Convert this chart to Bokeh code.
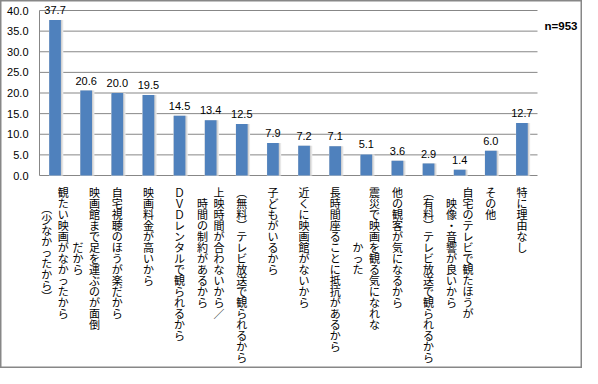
from bokeh.plotting import figure
from bokeh.models import ColumnDataSource, Range1d
from bokeh.transform import dodge
from bokeh.core.properties import value
from bokeh.embed import file_html
from bokeh.resources import INLINE

# ---- data ----
label_lines = [
    ["観たい映画がなかったから", "︵少なかったから︶"],
    ["映画館まで足を運ぶのが面倒", "だから"],
    ["自宅視聴のほうが楽だから"],
    ["映画料金が高いから"],
    ["ＤＶＤレンタルで観られるから"],
    ["上映時間が合わないから／", "時間の制約があるから"],
    ["︵無料︶テレビ放送で観られるから"],
    ["子どもがいるから"],
    ["近くに映画館がないから"],
    ["長時間座ることに抵抗があるから"],
    ["震災で映画を観る気になれな", "かった"],
    ["他の観客が気になるから"],
    ["︵有料︶テレビ放送で観られるから"],
    ["自宅のテレビで観たほうが", "映像・音響が良いから"],
    ["その他"],
    ["特に理由なし"],
]
categories = ["".join(l) for l in label_lines]
values = [37.7, 20.6, 20.0, 19.5, 14.5, 13.4, 12.5, 7.9, 7.2, 7.1, 5.1, 3.6, 2.9, 1.4, 6.0, 12.7]
y_ticks = [0, 5, 10, 15, 20, 25, 30, 35, 40]
y_tick_labels = ["%.1f" % t for t in y_ticks]
sample_note = "n=953"

# ---- layout (pixels) ----
W, H = 582, 368
PL, PR = 39, 537          # plot area left / right
Y_TOP, Y_ZERO = 10, 175   # pixel rows of the top tick and of zero
n = len(categories)
cat_px = (PR - PL) / n
ppu = (Y_ZERO - Y_TOP) / (max(y_ticks) - min(y_ticks))
x_lo = -0.5 - PL / cat_px
x_hi = n - 0.5 + (W - PR) / cat_px
y_hi = max(y_ticks) + Y_TOP / ppu
y_lo = min(y_ticks) - (H - Y_ZERO) / ppu

BAR = "#4F81BD"
GRID = "#878787"
FONT = "Liberation Sans"

p = figure(width=W, height=H, x_range=Range1d(x_lo, x_hi), y_range=Range1d(y_lo, y_hi),
           output_backend="svg", toolbar_location=None,
           x_axis_location=None, y_axis_location=None,
           min_border_left=0, min_border_right=0, min_border_top=0, min_border_bottom=0)
p.xgrid.visible = False
p.ygrid.visible = False
p.outline_line_color = GRID
p.outline_line_width = 2
p.background_fill_color = "white"
p.border_fill_color = "white"

xs = list(range(n))
left_edge = -0.5
right_edge = n - 0.5

# gridlines and axis line, from the tick values
gsrc = ColumnDataSource(dict(y=y_ticks, lab=y_tick_labels))
p.segment(x0=left_edge, x1=right_edge, y0="y", y1="y", source=gsrc,
          line_color=GRID, line_width=1)
p.segment(x0=left_edge, x1=left_edge, y0=min(y_ticks), y1=max(y_ticks),
          line_color=GRID, line_width=1)
p.text(x=left_edge, y="y", text="lab", source=gsrc, x_offset=-11,
       text_align="right", text_baseline="middle", text_font=value(FONT),
       text_font_size="11px", text_color="#000000")

src = ColumnDataSource(dict(x=xs, val=values, txt=["%.1f" % v for v in values]))

# soft shadow on the right of each bar
p.vbar(x=dodge("x", 0.035), top="val", width=0.46, source=src,
       fill_color="#EBEBEB", line_color=None)
p.vbar(x=dodge("x", 0.02), top="val", width=0.42, source=src,
       fill_color="#D2D2D2", line_color=None)
p.vbar(x="x", top="val", width=0.375, source=src, fill_color=BAR, line_color=None)

p.text(x="x", y="val", text="txt", source=src, text_align="center",
       text_baseline="bottom", y_offset=-6, text_font=value(FONT),
       text_font_size="11px", text_color="#000000")

# vertical category labels (each column of text is one line of the label)
PITCH = 11.0
COLW = 16.5
lx, lt, lxo, lyo = [], [], [], []
for i, lines in enumerate(label_lines):
    k = len(lines)
    lmax = max(len(s) for s in lines)
    for j, s in enumerate(lines):
        lx.append(i)
        lt.append("\n".join(s))
        lxo.append(((k - 1) / 2.0 - j) * COLW)
        lyo.append(8 + (lmax - len(s)) / 2.0 * PITCH)
lsrc = ColumnDataSource(dict(x=lx, y=[0] * len(lx), t=lt, xo=lxo, yo=lyo))
p.text(x="x", y="y", text="t", x_offset="xo", y_offset="yo", source=lsrc,
       text_align="center", text_baseline="top", text_line_height=0.69,
       text_font=value("Noto Sans CJK JP"), text_font_size="11px", text_color="#000000")

p.text(x=[right_edge], y=[max(y_ticks)], text=[sample_note], x_offset=40, y_offset=15,
       text_align="right", text_baseline="alphabetic", text_font=value(FONT),
       text_font_style="bold", text_font_size="11.5px", text_color="#000000")

open("out.html", "w").write(file_html(p, INLINE))
